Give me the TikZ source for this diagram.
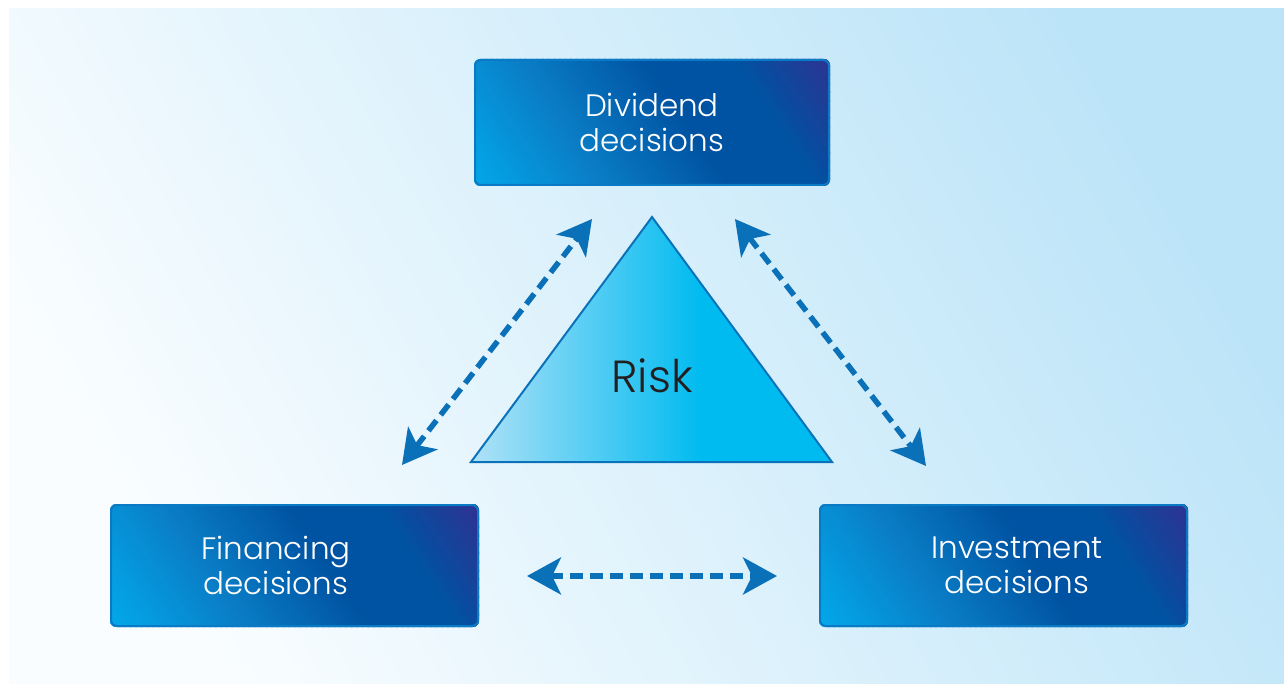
\documentclass[tikz,border=0pt]{standalone}
\usepackage{fontspec}
\setmainfont{Poppins Light}
\usetikzlibrary{arrows.meta,calc}
\pgfdeclarelayer{bglayer}
\pgfdeclarelayer{gradlayer}
\pgfsetlayers{bglayer,gradlayer,main}
\definecolor{bgA}{HTML}{F9FDFF}
\definecolor{bgB}{HTML}{BCE4F8}
\definecolor{bxA}{HTML}{02AAEB}
\definecolor{bxB}{HTML}{0A7DC6}
\definecolor{bxC}{HTML}{0053A2}
\definecolor{bxD}{HTML}{2E3192}
\definecolor{bxLine}{HTML}{0B7AC4}
\definecolor{trA}{HTML}{B0E1F7}
\definecolor{trB}{HTML}{00BBF0}
\definecolor{trLine}{HTML}{0B72BA}
\definecolor{arr}{HTML}{0A70B8}
\definecolor{risktxt}{HTML}{231F20}
\pgfdeclarehorizontalshading{trishade}{100bp}{color(0bp)=(trA); color(25bp)=(trA); color(57bp)=(trB); color(100bp)=(trB)}
\pgfdeclarehorizontalshading{bgshade}{100bp}{color(0bp)=(bgA); color(25bp)=(bgA); color(75bp)=(bgB); color(100bp)=(bgB)}
\newcommand{\boxgrad}[1]{%
  \begin{pgfonlayer}{gradlayer}
  \begin{scope}
  \clip[rounded corners=6pt] (#1.south west) rectangle (#1.north east);
  \begin{scope}[shift={(#1.center)}, rotate=33]
  \foreach \gk in {0,...,79}{%
    \pgfmathsetmacro{\gf}{\gk/79}%
    \ifdim\gf pt<0.3pt
      \pgfmathsetmacro{\gp}{100*\gf/0.3}\colorlet{sc}{bxB!\gp!bxA}%
    \else\ifdim\gf pt<0.58pt
      \pgfmathsetmacro{\gp}{100*(\gf-0.3)/0.28}\colorlet{sc}{bxC!\gp!bxB}%
    \else\ifdim\gf pt<0.78pt
      \colorlet{sc}{bxC}%
    \else
      \pgfmathsetmacro{\gp}{100*(\gf-0.78)/0.22}\colorlet{sc}{bxD!\gp!bxC}%
    \fi\fi\fi
    \pgfmathsetmacro{\ga}{-190+\gk*4.75-0.6}%
    \pgfmathsetmacro{\gb}{-190+(\gk+1)*4.75+0.6}%
    \fill[sc] (\ga,-200) rectangle (\gb,200);
  }
  \end{scope}
  \end{scope}
  \end{pgfonlayer}}
\tikzset{
  decbox/.style={rectangle, rounded corners=6pt, draw=bxLine, line width=2pt,
    text=white, align=center,
    font=\fontsize{31}{35}\selectfont, inner sep=0pt},
  link/.style={draw=arr, line width=5.5pt, dash pattern=on 13pt off 7pt,
    {Stealth[length=34pt,width=37pt,inset=9pt]}-{Stealth[length=34pt,width=37pt,inset=9pt]}}
}
\begin{document}
\begin{tikzpicture}[x=1pt,y=-1pt]
\useasboundingbox (0,0) rectangle (1284,684);
\begin{pgfonlayer}{bglayer}
\fill[white] (0,0) rectangle (1284,684);
\shade[shading=bgshade, shading angle=30] (9,9) rectangle (1284,684);
\end{pgfonlayer}
% boxes
\node[decbox, minimum width=354pt, minimum height=125pt] (div) at (652,122.5) {Dividend\\decisions};
\node[decbox, minimum width=367pt, minimum height=121pt] (fin) at (294.5,565.5) {Financing\hspace*{37pt}\\decisions\hspace*{37pt}};
\node[decbox, minimum width=367pt, minimum height=121pt] (inv) at (1003.5,565.5) {\hspace*{27pt}Investment\\\hspace*{27pt}decisions};
\boxgrad{div}
\boxgrad{fin}
\boxgrad{inv}
% triangle
\coordinate (apex) at (652,217);
\coordinate (bl) at (471,462);
\coordinate (br) at (832,462);
\shade[shading=trishade, draw=trLine, line width=2pt, line join=miter] (apex) -- (bl) -- (br) -- cycle;
\node[text=risktxt, font=\fontsize{45}{50}\selectfont] (risk) at (652,376) {Risk};
% connector end points
\coordinate (l1) at (402,465);
\coordinate (l2) at (592,219);
\coordinate (r1) at (735,219);
\coordinate (r2) at (926,466);
\coordinate (h1) at (527,576);
\coordinate (h2) at (777,576);
\draw[link] (l1) -- (l2);
\draw[link] (r1) -- (r2);
\draw[link] (h1) -- (h2);
\end{tikzpicture}
\end{document}
